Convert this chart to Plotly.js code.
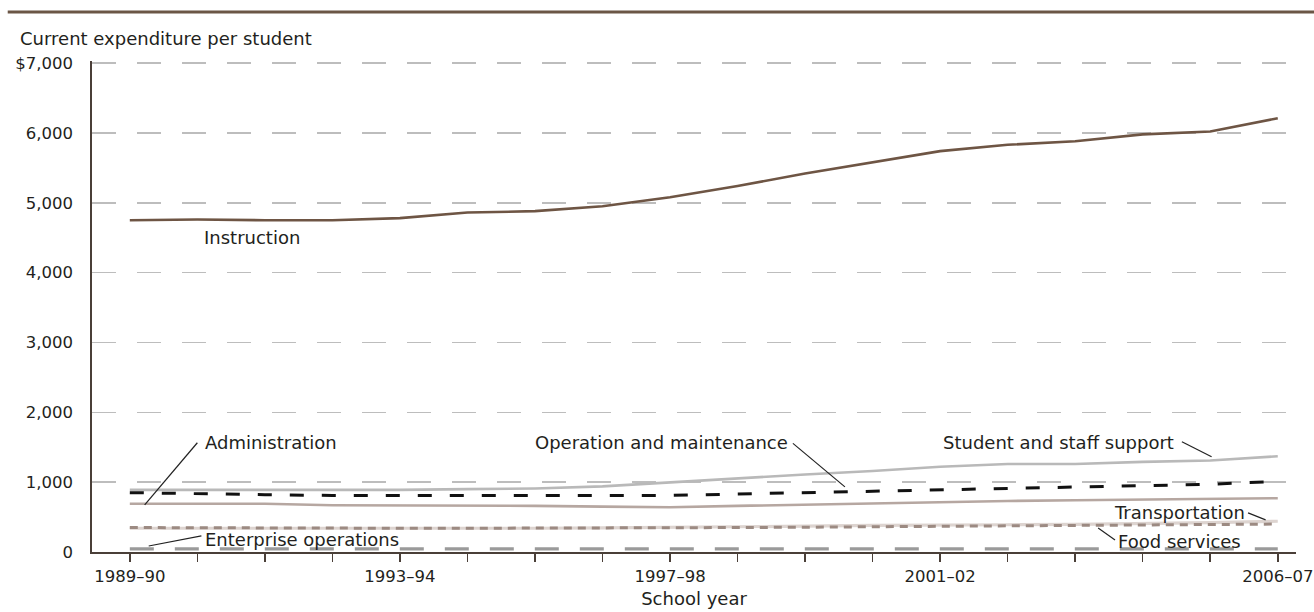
<!DOCTYPE html>
<html>
<head>
<meta charset="utf-8">
<script src="https://cdn.plot.ly/plotly-3.0.1.min.js"></script>
<style>html,body{margin:0;padding:0;background:#fff;}#chart{width:1314px;height:612px;}</style>
</head>
<body>
<div id="chart"></div>
<script>
// ---- Data ----
const years = ['1989–90','1990–91','1991–92','1992–93','1993–94','1994–95','1995–96','1996–97','1997–98',
  '1998–99','1999–2000','2000–01','2001–02','2002–03','2003–04','2004–05','2005–06','2006–07'];
const labeledYears = ['1989–90','1993–94','1997–98','2001–02','2006–07'];

const instruction = [4750,4760,4750,4750,4780,4860,4880,4950,5080,5240,5420,5580,5740,5830,5880,5980,6020,6210];
const studentStaffSupport = [890,890,880,880,890,900,910,940,1000,1060,1110,1160,1220,1260,1260,1290,1310,1370];
const operationMaintenance = [850,830,820,810,810,800,800,810,810,830,850,870,890,900,920,950,970,1010];
const administration = [690,690,690,670,670,660,660,650,640,660,680,700,720,730,740,750,750,770];
const transportation = [340,340,335,330,330,335,340,345,350,360,370,380,390,390,395,405,420,440];
const foodServices = [350,345,340,340,340,340,340,345,345,350,355,360,370,375,380,385,390,400];
const enterpriseOps = [45,45,45,45,45,45,45,45,45,45,45,45,45,45,45,45,45,45];

const yTickVals = [0,1000,2000,3000,4000,5000,6000,7000];
const yTickText = ['0','1,000','2,000','3,000','4,000','5,000','6,000','$7,000'];

// ---- Build ----
const xIdx = years.map((_, i) => i);
const FONT = 'DejaVu Sans, sans-serif';
const TXT = '#231f20';

function line(name, y, color, width, dash) {
  return {type:'scatter', mode:'lines', name, x:xIdx, y,
    line:{color, width, dash: dash || 'solid', shape:'linear'}, hoverinfo:'skip'};
}

const traces = [
  line('Instruction', instruction, '#6e5544', 2.6),
  line('Student and staff support', studentStaffSupport, '#b9b9b9', 2.6),
  line('Administration', administration, '#b6a7a1', 2.6),
  line('Transportation', transportation, '#ddd4d0', 3.2),
  line('Food services', foodServices, '#9c8a82', 3, '8px,6px'),
  line('Operation and maintenance', operationMaintenance, '#111111', 3, '14px,18px'),
  line('Enterprise operations', enterpriseOps, '#9a9a9a', 3.2, '24px,21px')
];

// label annotations: [text, x, y, anchor]
const labels = [
  ['Instruction', 1.07, 4505, 'left'],
  ['Administration', 1.08, 1564, 'left'],
  ['Enterprise operations', 1.09, 172, 'left'],
  ['Operation and maintenance', 9.78, 1564, 'right'],
  ['Student and staff support', 15.5, 1564, 'right'],
  ['Transportation', 16.55, 564, 'right'],
  ['Food services', 14.6, 148, 'left']
];
// leader lines: [x0,y0,x1,y1]
const leaders = [
  [0.22, 674, 1.0, 1564],
  [0.28, 86, 1.06, 230],
  [9.82, 1555, 10.59, 933],
  [15.58, 1578, 16.02, 1363],
  [16.56, 560, 16.82, 460],
  [14.34, 344, 14.59, 172]
];

const annotations = labels.map(l => ({
  text:l[0], x:l[1], y:l[2], xref:'x', yref:'y', xanchor:l[3], yanchor:'middle',
  showarrow:false, font:{family:FONT, size:18, color:TXT}
}));
annotations.push({
  text:'Current expenditure per student', xref:'paper', yref:'paper',
  x:-0.0615, y:1.045, xanchor:'left', yanchor:'middle', showarrow:false,
  font:{family:FONT, size:18, color:TXT}
});

const shapes = leaders.map(s => ({
  type:'line', xref:'x', yref:'y', x0:s[0], y0:s[1], x1:s[2], y1:s[3],
  line:{color:'#222', width:1.2}
}));
shapes.push({type:'line', xref:'paper', yref:'paper', x0:-0.07, x1:1.02, y0:1.1, y1:1.1,
  line:{color:'#6b5646', width:3}});

const layout = {
  width:1314, height:612,
  margin:{l:92, r:18, t:61, b:60},
  paper_bgcolor:'#fff', plot_bgcolor:'#fff',
  showlegend:false,
  font:{family:FONT, size:17, color:TXT},
  xaxis:{
    range:[-0.56, 17.27], tickmode:'array', tickvals:xIdx,
    ticktext: years.map(y => labeledYears.includes(y) ? y : ''),
    ticks:'outside', ticklen:8, tickwidth:1.5, tickcolor:'#4a3f38',
    showline:true, linecolor:'#4a3f38', linewidth:1.8,
    showgrid:false, zeroline:false, ticklabeloverflow:'allow',
    tickfont:{family:FONT, size:16.5, color:TXT},
    title:{text:'School year', font:{family:FONT, size:18, color:TXT}, standoff:8}
  },
  yaxis:{
    range:[0, 7030], tickmode:'array', tickvals:yTickVals, ticktext:yTickText,
    ticks:'', showline:true, linecolor:'#4a3f38', linewidth:1.8,
    showgrid:true, gridcolor:'#bdbdbd', gridwidth:1.5, griddash:'24px,21px',
    zeroline:false, ticklabelstandoff:14,
    tickfont:{family:FONT, size:16.5, color:TXT}
  },
  annotations, shapes
};

Plotly.newPlot('chart', traces, layout, {staticPlot:true, displayModeBar:false});
</script>
</body>
</html>
